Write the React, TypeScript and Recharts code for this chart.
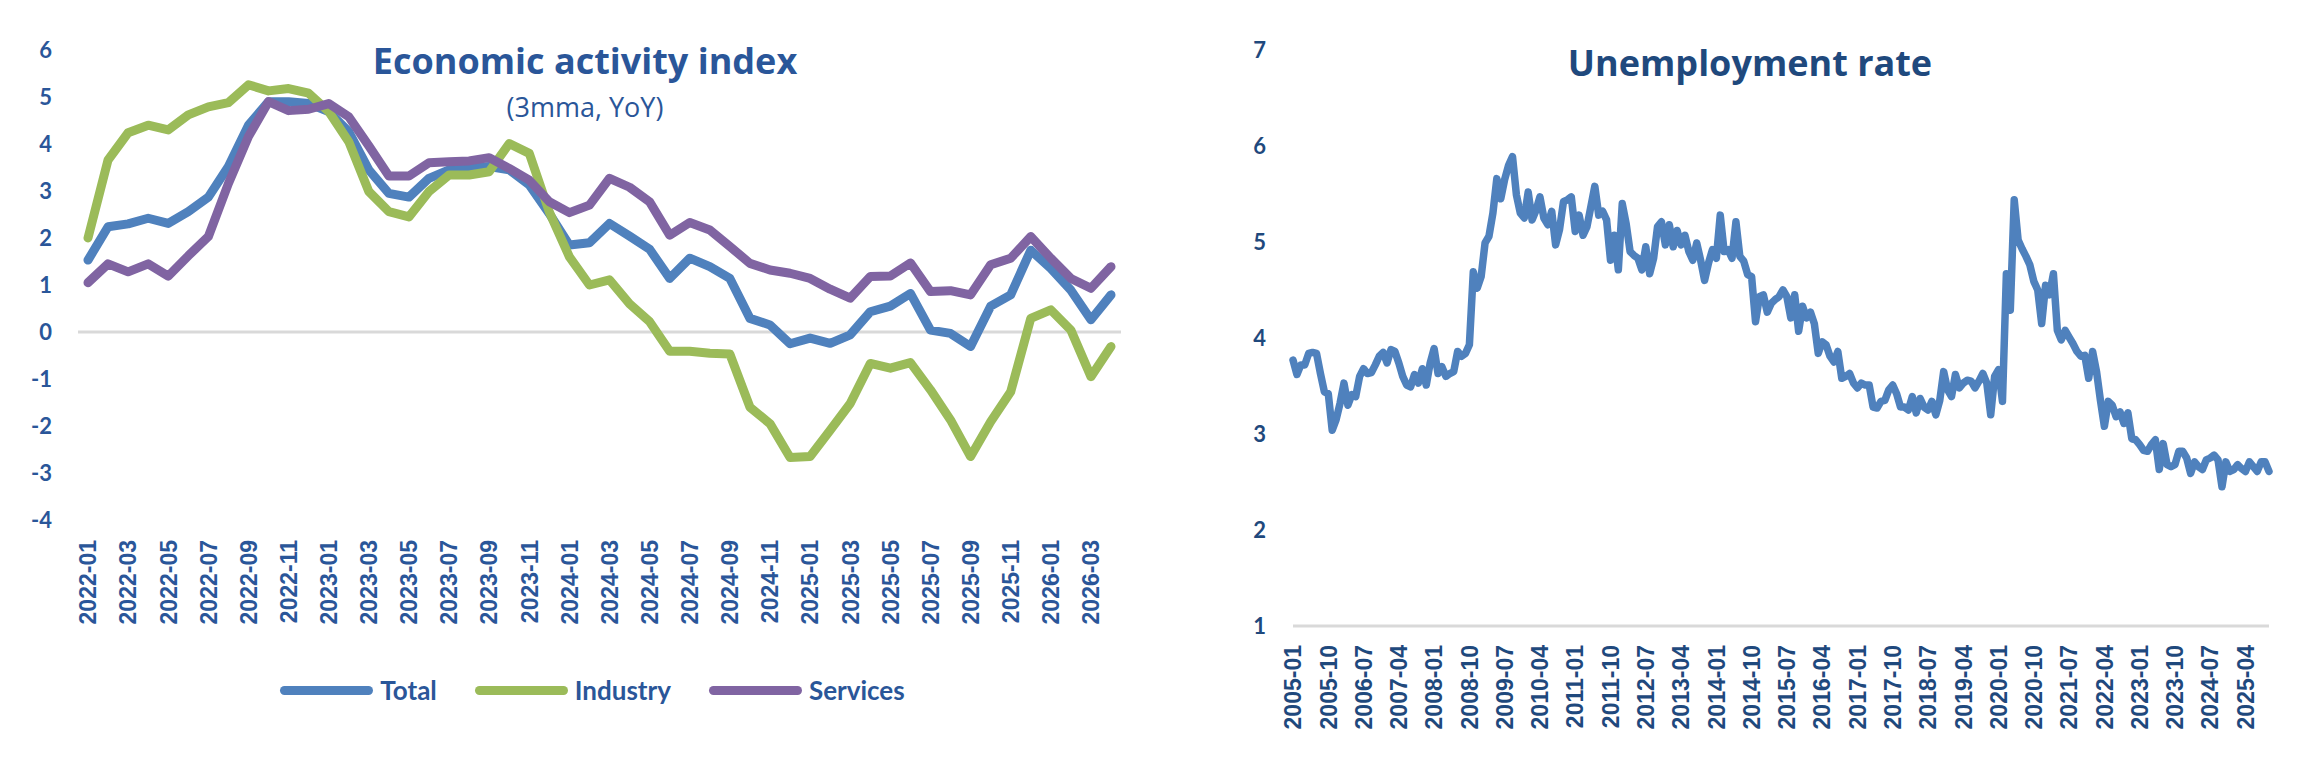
import React from 'react';
import { LineChart, Line, XAxis, YAxis, ReferenceLine, Legend } from 'recharts';

// month labels helper (categories only)
const monthRange = (startYear: number, startMonth: number, count: number): string[] => {
  const out: string[] = [];
  for (let k = 0; k < count; k++) {
    const m = startMonth - 1 + k;
    const y = startYear + Math.floor(m / 12);
    out.push(`${y}-${String((m % 12) + 1).padStart(2, '0')}`);
  }
  return out;
};

// Economic activity index (3mma, YoY), 2022-01 .. 2026-04
const activityMonths = monthRange(2022, 1, 52);
const seriesOrder = ['Total', 'Industry', 'Services'];
const totalValues = [
  1.53, 2.24, 2.30, 2.42, 2.31, 2.56, 2.87, 3.52, 4.40, 4.90,
  4.90, 4.86, 4.69, 4.26, 3.45, 2.95, 2.87, 3.27, 3.45, 3.49,
  3.52, 3.45, 3.13, 2.52, 1.85, 1.90, 2.31, 2.04, 1.76, 1.14,
  1.57, 1.39, 1.14, 0.29, 0.15, -0.25, -0.13, -0.24, -0.06, 0.43,
  0.55, 0.82, 0.04, -0.03, -0.31, 0.55, 0.79, 1.74, 1.35, 0.89,
  0.26, 0.79,
];
const industryValues = [
  2.0, 3.66, 4.24, 4.40, 4.30, 4.62, 4.79, 4.88, 5.26, 5.13,
  5.18, 5.08, 4.69, 4.05, 2.99, 2.56, 2.45, 2.99, 3.34, 3.34,
  3.41, 4.01, 3.80, 2.55, 1.60, 1.00, 1.11, 0.60, 0.22, -0.41,
  -0.41, -0.45, -0.47, -1.60, -1.95, -2.67, -2.65, -2.09, -1.52, -0.67,
  -0.77, -0.65, -1.23, -1.87, -2.65, -1.91, -1.27, 0.29, 0.47, 0.04,
  -0.95, -0.31,
];
const servicesValues = [
  1.05, 1.45, 1.28, 1.45, 1.19, 1.62, 2.03, 3.16, 4.16, 4.90,
  4.71, 4.74, 4.86, 4.58, 3.96, 3.32, 3.32, 3.60, 3.62, 3.64,
  3.71, 3.48, 3.23, 2.77, 2.54, 2.70, 3.27, 3.08, 2.77, 2.06,
  2.33, 2.17, 1.82, 1.46, 1.32, 1.25, 1.14, 0.91, 0.72, 1.18,
  1.19, 1.47, 0.86, 0.88, 0.79, 1.43, 1.57, 2.03, 1.57, 1.14,
  0.93, 1.39,
];
const activityTicks = [-4, -3, -2, -1, 0, 1, 2, 3, 4, 5, 6];

// Unemployment rate, 2005-01 .. 2025-10
const unempMonths = monthRange(2005, 1, 250);
const unempValues = [
  3.77, 3.62, 3.72, 3.72, 3.84, 3.85, 3.84, 3.63, 3.44, 3.42,
  3.04, 3.15, 3.32, 3.53, 3.30, 3.41, 3.39, 3.60, 3.68, 3.63,
  3.64, 3.72, 3.81, 3.85, 3.74, 3.88, 3.86, 3.74, 3.60, 3.51,
  3.49, 3.62, 3.53, 3.68, 3.51, 3.74, 3.89, 3.63, 3.70, 3.60,
  3.63, 3.65, 3.86, 3.81, 3.84, 3.93, 4.69, 4.52, 4.64, 4.99,
  5.06, 5.30, 5.66, 5.45, 5.65, 5.80, 5.89, 5.49, 5.30, 5.25,
  5.52, 5.23, 5.33, 5.47, 5.25, 5.18, 5.32, 4.97, 5.13, 5.42,
  5.44, 5.47, 5.11, 5.28, 5.07, 5.16, 5.37, 5.58, 5.28, 5.32,
  5.23, 4.81, 5.07, 4.71, 5.40, 5.19, 4.90, 4.86, 4.83, 4.71,
  4.95, 4.67, 4.83, 5.16, 5.21, 4.97, 5.18, 4.95, 5.12, 4.97,
  5.07, 4.90, 4.81, 4.99, 4.81, 4.60, 4.78, 4.92, 4.83, 5.28,
  4.90, 4.92, 4.83, 5.21, 4.85, 4.80, 4.66, 4.64, 4.17, 4.43,
  4.45, 4.27, 4.36, 4.40, 4.43, 4.50, 4.43, 4.21, 4.45, 4.07,
  4.33, 4.21, 4.27, 4.15, 3.84, 3.96, 3.93, 3.81, 3.75, 3.86,
  3.58, 3.60, 3.63, 3.53, 3.48, 3.53, 3.51, 3.51, 3.28, 3.27,
  3.34, 3.35, 3.46, 3.51, 3.42, 3.28, 3.28, 3.25, 3.39, 3.22,
  3.37, 3.28, 3.25, 3.34, 3.20, 3.35, 3.65, 3.46, 3.39, 3.62,
  3.48, 3.53, 3.56, 3.55, 3.48, 3.55, 3.63, 3.53, 3.20, 3.60,
  3.67, 3.34, 4.67, 4.29, 5.44, 5.02, 4.93, 4.85, 4.76, 4.59,
  4.50, 4.15, 4.55, 4.45, 4.67, 4.08, 3.98, 4.08, 4.01, 3.94,
  3.86, 3.81, 3.82, 3.58, 3.86, 3.65, 3.35, 3.08, 3.34, 3.30,
  3.18, 3.23, 3.11, 3.22, 2.95, 2.94, 2.89, 2.83, 2.82, 2.89,
  2.94, 2.63, 2.90, 2.68, 2.66, 2.68, 2.82, 2.82, 2.75, 2.59,
  2.71, 2.66, 2.63, 2.73, 2.75, 2.78, 2.73, 2.45, 2.71, 2.61,
  2.63, 2.68, 2.64, 2.61, 2.71, 2.66, 2.61, 2.71, 2.71, 2.61,
];
const unempTicks = [1, 2, 3, 4, 5, 6, 7];

const activityData = activityMonths.map((month, i) => ({
  month,
  Total: totalValues[i],
  Industry: industryValues[i],
  Services: servicesValues[i],
}));
const unempData = unempMonths.map((month, i) => ({ month, rate: unempValues[i] }));

const BLUE_TEXT = '#2a5699';
const NAVY_TEXT = '#1f497d';
const COLORS = { Total: '#4f81bd', Industry: '#9bbb59', Services: '#8064a2' };

const MonthTick = (props: any) => {
  const { x, y, payload, offset, color } = props;
  return (
    <g transform={`translate(${x},${y})`}>
      <text
        transform="rotate(-90)"
        x={-offset}
        y={0}
        dy="0.36em"
        textAnchor="end"
        fill={color}
        fontSize={23}
        fontWeight={700}
        fontFamily="'Liberation Sans', Arial, sans-serif"
      >
        {payload.value}
      </text>
    </g>
  );
};

const ActivityLegend = (props: any) => {
  // keep series order (recharts sorts legend items by name)
  const items = [...(props.payload || [])].sort(
    (a: any, b: any) => seriesOrder.indexOf(a.value) - seriesOrder.indexOf(b.value)
  );
  return (
    <div style={{ display: 'flex', justifyContent: 'center', alignItems: 'center', height: 30 }}>
      {items.map((entry: any, i: number) => (
        <div key={entry.value} style={{ display: 'flex', alignItems: 'center', marginLeft: i === 0 ? 0 : 38 }}>
          <div style={{ width: 93, height: 9, borderRadius: 5, background: entry.color }} />
          <span
            style={{
              marginLeft: 7,
              color: BLUE_TEXT,
              fontFamily: 'Lato, sans-serif',
              fontWeight: 700,
              fontSize: 26,
              lineHeight: '30px',
            }}
          >
            {entry.value}
          </span>
        </div>
      ))}
    </div>
  );
};

const titleStyle = (color: string): React.CSSProperties => ({
  position: 'absolute',
  transform: 'translateX(-50%)',
  whiteSpace: 'nowrap',
  fontFamily: "'Open Sans', sans-serif",
  fontWeight: 700,
  fontSize: 36,
  lineHeight: '36px',
  color,
});

const App: React.FC = () => {
  return (
    <div style={{ position: 'absolute', left: 0, top: 0, width: 2315, height: 765, background: '#fff', overflow: 'hidden' }}>
      <div style={{ position: 'absolute', left: 0, top: 0 }}>
        <LineChart width={1160} height={765} data={activityData} margin={{ top: 50, right: 39, bottom: 60, left: 0 }}>
          <XAxis
            dataKey="month"
            interval={1}
            axisLine={false}
            tickLine={false}
            tickSize={0}
            height={155}
            padding={{ left: 10, right: 10 }}
            tick={<MonthTick offset={18} color={BLUE_TEXT} />}
          />
          <YAxis
            domain={[-4, 6]}
            ticks={activityTicks}
            width={78}
            axisLine={false}
            tickLine={false}
            tickSize={0}
            tickMargin={26}
            tick={{ fill: BLUE_TEXT, fontSize: 22, fontWeight: 700, fontFamily: 'Lato, sans-serif' }}
          />
          <ReferenceLine y={0} stroke="#d9d9d9" strokeWidth={3} />
          <Line dataKey="Total" stroke={COLORS.Total} strokeWidth={9} dot={false} strokeLinejoin="round" strokeLinecap="round" isAnimationActive={false} />
          <Line dataKey="Industry" stroke={COLORS.Industry} strokeWidth={9} dot={false} strokeLinejoin="round" strokeLinecap="round" isAnimationActive={false} />
          <Line dataKey="Services" stroke={COLORS.Services} strokeWidth={9} dot={false} strokeLinejoin="round" strokeLinecap="round" isAnimationActive={false} />
          <Legend content={<ActivityLegend />} wrapperStyle={{ left: 0, width: 1185, bottom: 60 }} />
        </LineChart>
      </div>
      <div style={{ ...titleStyle(BLUE_TEXT), left: 585, top: 43 }}>Economic activity index</div>
      <div
        style={{
          position: 'absolute',
          left: 585,
          top: 93,
          transform: 'translateX(-50%)',
          whiteSpace: 'nowrap',
          fontFamily: "'Open Sans', sans-serif",
          fontSize: 27,
          lineHeight: '27px',
          color: BLUE_TEXT,
        }}
      >
        (3mma, YoY)
      </div>

      <div style={{ position: 'absolute', left: 1160, top: 0 }}>
        <LineChart width={1155} height={765} data={unempData} margin={{ top: 50, right: 46, bottom: 0, left: 0 }}>
          <XAxis
            dataKey="month"
            interval={8}
            axisLine={{ stroke: '#d9d9d9', strokeWidth: 3 }}
            tickLine={false}
            tickSize={0}
            height={139}
            tick={<MonthTick offset={17} color={NAVY_TEXT} />}
          />
          <YAxis
            domain={[1, 7]}
            ticks={unempTicks}
            width={133}
            axisLine={false}
            tickLine={false}
            tickSize={0}
            tickMargin={27}
            tick={{ fill: NAVY_TEXT, fontSize: 22, fontWeight: 700, fontFamily: 'Lato, sans-serif' }}
          />
          <Line dataKey="rate" stroke="#4f81bd" strokeWidth={7.5} dot={false} strokeLinejoin="round" strokeLinecap="round" isAnimationActive={false} />
        </LineChart>
      </div>
      <div style={{ ...titleStyle(NAVY_TEXT), left: 1750, top: 45 }}>Unemployment rate</div>
    </div>
  );
};

export default App;
